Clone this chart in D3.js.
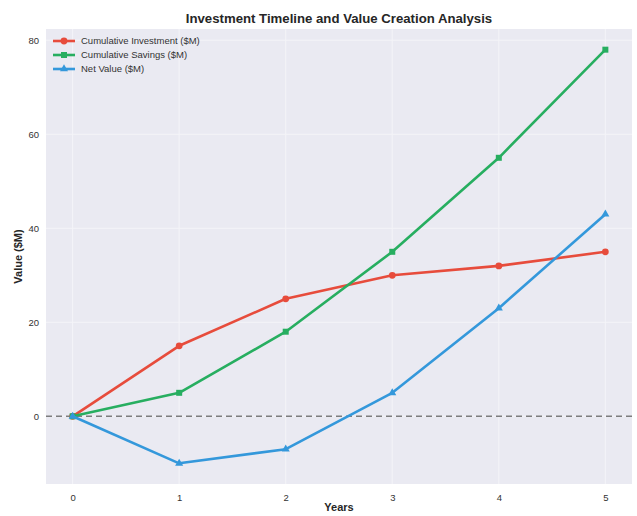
<!DOCTYPE html>
<html>
<head>
<meta charset="utf-8">
<script src="https://cdn.jsdelivr.net/npm/d3@7"></script>
<style>
  body { margin: 0; background: #fff; }
  svg { font-family: "Liberation Sans", Arial, sans-serif; }
</style>
</head>
<body>
<svg id="chart" width="637" height="516"></svg>
<script>
const years = [0, 1, 2, 3, 4, 5];
const investment = [0, 15, 25, 30, 32, 35];
const savings = [0, 5, 18, 35, 55, 78];
const netValue = [0, -10, -7, 5, 23, 43];
const xTicks = [0, 1, 2, 3, 4, 5];
const yTicks = [0, 20, 40, 60, 80];

const series = [
  { name: "Cumulative Investment ($M)", values: investment, color: "#e74c3c", marker: "circle" },
  { name: "Cumulative Savings ($M)", values: savings, color: "#27ae60", marker: "square" },
  { name: "Net Value ($M)", values: netValue, color: "#3498db", marker: "triangle" }
];

const svg = d3.select("#chart");
const m = { left: 46, right: 5, top: 29, bottom: 32 };
const W = 637, H = 516;
const pw = W - m.left - m.right, ph = H - m.top - m.bottom;

const x = d3.scaleLinear().domain([-0.25, 5.25]).range([m.left, m.left + pw]);
const y = d3.scaleLinear().domain([-14.4, 82.4]).range([m.top + ph, m.top]);

// plot background
svg.append("rect").attr("x", m.left).attr("y", m.top).attr("width", pw).attr("height", ph).attr("fill", "#eaeaf2");

// grid
const g = svg.append("g");
g.selectAll(".gx").data(xTicks).enter().append("line")
  .attr("x1", d => x(d)).attr("x2", d => x(d)).attr("y1", m.top).attr("y2", m.top + ph)
  .attr("stroke", "#f4f4f8").attr("stroke-width", 1);
g.selectAll(".gy").data(yTicks).enter().append("line")
  .attr("y1", d => y(d)).attr("y2", d => y(d)).attr("x1", m.left).attr("x2", m.left + pw)
  .attr("stroke", "#f4f4f8").attr("stroke-width", 1);

// axes
const xAxis = d3.axisBottom(x).tickValues(xTicks).tickSize(0).tickPadding(10).tickFormat(d3.format("d"));
const yAxis = d3.axisLeft(y).tickValues(yTicks).tickSize(0).tickPadding(7).tickFormat(d3.format("d"));
const gx = svg.append("g").attr("transform", `translate(0,${m.top + ph})`).call(xAxis);
const gy = svg.append("g").attr("transform", `translate(${m.left},0)`).call(yAxis);
[gx, gy].forEach(a => {
  a.select(".domain").remove();
  a.selectAll("text").attr("font-size", 9.5).attr("fill", "#333").attr("font-family", "Liberation Sans, Arial, sans-serif");
});

// zero reference line
svg.append("line")
  .attr("x1", m.left).attr("x2", m.left + pw).attr("y1", y(0)).attr("y2", y(0))
  .attr("stroke", "#555").attr("stroke-opacity", 0.75).attr("stroke-width", 1.5).attr("stroke-dasharray", "6,4");

// series
const line = d3.line().x((d, i) => x(years[i])).y(d => y(d));
const symbolOf = { circle: d3.symbolCircle, square: d3.symbolSquare, triangle: d3.symbolTriangle };
const sizeOf = { circle: 36, square: 36, triangle: 28 };
series.forEach(s => {
  svg.append("path").datum(s.values).attr("d", line)
    .attr("fill", "none").attr("stroke", s.color).attr("stroke-width", 2.6).attr("stroke-linejoin", "round");
  svg.selectAll(null).data(s.values).enter().append("path")
    .attr("d", d3.symbol().type(symbolOf[s.marker]).size(sizeOf[s.marker]))
    .attr("transform", (d, i) => `translate(${x(years[i])},${y(d)})`)
    .attr("fill", s.color);
});

// legend
const lg = svg.append("g").attr("transform", `translate(53,41)`);
series.forEach((s, i) => {
  const row = lg.append("g").attr("transform", `translate(0,${i * 14})`);
  row.append("line").attr("x1", 0).attr("x2", 22).attr("y1", 0).attr("y2", 0)
    .attr("stroke", s.color).attr("stroke-width", 2.6);
  row.append("path").attr("d", d3.symbol().type(symbolOf[s.marker]).size(sizeOf[s.marker])())
    .attr("transform", "translate(11,0)").attr("fill", s.color);
  row.append("text").attr("x", 28).attr("y", 0).attr("dy", "0.35em")
    .attr("font-size", 9.5).attr("fill", "#333").text(s.name);
});

// title and axis labels
svg.append("text").attr("x", m.left + pw / 2).attr("y", 23).attr("text-anchor", "middle")
  .attr("font-size", 13.2).attr("font-weight", "bold").attr("fill", "#262626")
  .text("Investment Timeline and Value Creation Analysis");
svg.append("text").attr("x", m.left + pw / 2).attr("y", 511).attr("text-anchor", "middle")
  .attr("font-size", 11).attr("font-weight", "bold").attr("fill", "#262626").text("Years");
svg.append("text").attr("transform", `translate(22,${m.top + ph / 2}) rotate(-90)`).attr("text-anchor", "middle")
  .attr("font-size", 11).attr("font-weight", "bold").attr("fill", "#262626").text("Value ($M)");
</script>
</body>
</html>
